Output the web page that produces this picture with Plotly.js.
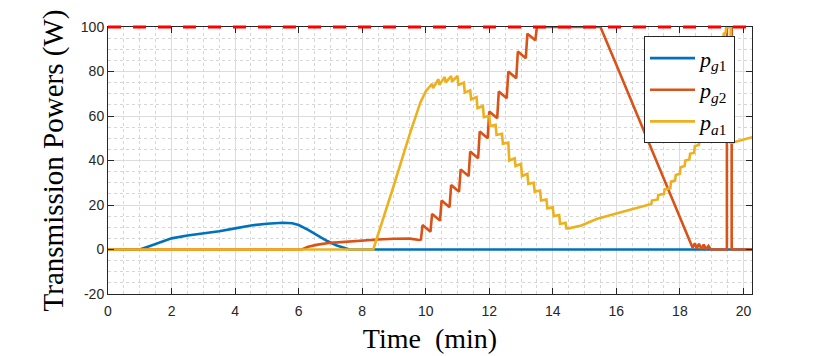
<!DOCTYPE html>
<html>
<head>
<meta charset="utf-8">
<script src="https://cdn.plot.ly/plotly-3.0.1.min.js"></script>
<style>
  html, body { margin: 0; padding: 0; background: #fff; }
  #chart { width: 830px; height: 356px; }
</style>
</head>
<body>
<div id="chart"></div>
<script>
// ---- data (Time in min, Power in W) ----
const tG1 = [0, 1.0, 1.3, 1.6, 2.0, 2.5, 3.0, 3.5, 4.0, 4.5, 5.0, 5.5, 5.8, 6.0, 6.3, 6.6, 6.9, 7.2, 7.5, 7.6, 20.27];
const pG1 = [0, 0, 1.5, 3.0, 5.0, 6.3, 7.2, 8.2, 9.5, 10.8, 11.6, 12.0, 11.8, 11.0, 8.8, 6.3, 3.8, 1.8, 0.2, 0, 0];

const tG2 = [0, 6.1, 6.3, 6.6, 7.0, 7.5, 8.0, 8.5, 9.0, 9.5, 9.8,
  9.85, 9.90, 10.15, 10.20, 10.45, 10.50, 10.75, 10.80, 11.05, 11.10, 11.35, 11.40,
  11.65, 11.70, 11.95, 12.00, 12.25, 12.30, 12.55, 12.60, 12.85, 12.90, 13.15, 13.20,
  13.45, 13.50, 15.5, 16.0, 16.5, 17.0, 17.5, 18.0, 18.4, 18.47, 18.53, 18.6, 18.68,
  18.75, 18.82, 18.9, 18.97, 19.05, 19.48, 19.48, 19.63, 19.63, 20.27];
const pG2 = [0, 0, 1.2, 2.2, 3.0, 3.6, 4.1, 4.5, 4.8, 4.9, 4.3,
  4.5, 11, 8, 16, 13, 22, 19, 29, 26, 36, 33, 44,
  41, 53, 50, 62, 59, 71, 68, 80, 77, 89, 86, 97,
  94, 100, 100, 83, 66, 49, 32, 15, 0.8, 2.8, 0.4, 2.6, 0.3,
  2.2, 0.2, 1.6, 0.1, 0, 0, 100, 100, 0, 0];

const tA1 = [0, 8.35, 9.0, 9.5, 9.83, 10.0, 10.2, 10.23, 10.4, 10.43, 10.6, 10.63, 10.8, 10.83,
  11.0, 11.03, 11.2, 11.23, 11.4, 11.43, 11.6, 11.63, 11.8, 11.83, 12.0, 12.03, 12.2, 12.23,
  12.4, 12.43, 12.6, 12.63, 12.8, 12.83, 13.0, 13.03, 13.2, 13.23, 13.4, 13.43, 13.6, 13.63,
  13.8, 13.83, 14.0, 14.03, 14.2, 14.23, 14.4, 14.43, 14.5, 14.9, 15.4, 15.9, 16.4, 16.9,
  17.1, 17.12, 17.3, 17.32, 17.5, 17.52, 17.7, 17.72, 17.85, 17.87, 18.0, 18.02, 18.15, 18.17,
  18.3, 18.32, 18.45, 18.47, 18.6, 18.62, 18.8, 19.0, 19.15, 19.28, 19.3, 19.36, 19.38, 19.44,
  19.46, 19.6, 19.6, 19.65, 20.0, 20.27];
const pA1 = [0, 0, 29, 52, 66, 71, 74.5, 72.5, 76.5, 74, 77.5, 75, 78, 75.5,
  78, 74, 75, 70.5, 71.5, 67.5, 68.5, 63.5, 64.5, 59.5, 60, 55.5, 56, 51.5,
  52, 47.5, 48, 40, 41, 37.5, 38.5, 33, 34, 29.5, 30, 26, 26.5, 22,
  22.5, 18.5, 19, 15, 15.5, 11.5, 12, 9.5, 9.5, 10.8, 13.8, 15.8, 17.5, 19.8,
  20.5, 22, 22.5, 24.5, 25, 27, 27.5, 30.5, 31, 33.5, 34, 37, 37.5, 40,
  40.5, 43, 43.5, 46.5, 47, 50, 56, 66, 76, 88, 92, 92.5, 97, 97.5,
  100, 100, 48, 48, 49.5, 50.5];

const tLimit = [0, 20.27];
const pLimit = [100, 100];

const xRange = [0, 20.27];
const yRange = [-20, 100];
const xTicks = [0, 2, 4, 6, 8, 10, 12, 14, 16, 18, 20];
const yTicks = [-20, 0, 20, 40, 60, 80, 100];

const seriesNames = ['<i>p</i><sub><i>g</i>1</sub>', '<i>p</i><sub><i>g</i>2</sub>', '<i>p</i><sub><i>a</i>1</sub>'];
const colors = ['#0072BD', '#D95319', '#EDB120'];

const LW = 2.6;
const traces = [
  {x: tG1, y: pG1, name: seriesNames[0], mode: 'lines', line: {color: colors[0], width: LW}},
  {x: tG2, y: pG2, name: seriesNames[1], mode: 'lines', line: {color: colors[1], width: LW}},
  {x: tA1, y: pA1, name: seriesNames[2], mode: 'lines', line: {color: colors[2], width: LW}}
];

// limit line as a shape (so it is not clipped at the top border)
const toPaperY = v => (v - yRange[0]) / (yRange[1] - yRange[0]);
const shapes = [{
  type: 'line', layer: 'above', xref: 'x', yref: 'paper',
  x0: tLimit[0], x1: tLimit[1], y0: toPaperY(pLimit[0]), y1: toPaperY(pLimit[1]),
  line: {color: '#FF0000', width: 3, dash: '13px,12px'}
}];

const axisCommon = {
  showline: true, linecolor: '#262626', linewidth: 1, mirror: 'ticks',
  ticks: 'inside', ticklen: 6, tickwidth: 1, tickcolor: '#262626',
  showgrid: true, gridcolor: '#dcdcdc', gridwidth: 1,
  zeroline: false,
  tickfont: {family: 'Liberation Sans, Arial, sans-serif', size: 14, color: '#262626'},
};

const serif = 'Liberation Serif, Times New Roman, serif';
const layout = {
  width: 830, height: 356,
  margin: {l: 108, r: 78, t: 27, b: 62},
  paper_bgcolor: '#ffffff', plot_bgcolor: '#ffffff',
  showlegend: true,
  shapes: shapes,
  xaxis: Object.assign({}, axisCommon, {
    range: xRange, tickvals: xTicks, ticktext: xTicks.map(String),
    ticklabelstandoff: 4,
    minor: {dtick: 0.5, tick0: 0, showgrid: true, gridcolor: '#d6d6d6', griddash: 'dot', gridwidth: 1, ticks: ''},
    title: {text: 'Time\u00a0\u00a0(min)', standoff: 10,
            font: {family: serif, size: 28, color: '#000'}}
  }),
  yaxis: Object.assign({}, axisCommon, {
    range: yRange, tickvals: yTicks, ticktext: yTicks.map(String),
    minor: {dtick: 5, tick0: 0, showgrid: true, gridcolor: '#d6d6d6', griddash: 'dot', gridwidth: 1, ticks: ''},
    title: {text: 'Transmission Powers (W)', standoff: 8,
            font: {family: serif, size: 29, color: '#000'}}
  }),
  legend: {
    x: 0.9736, xanchor: 'right', y: 0.965, yanchor: 'top',
    bgcolor: '#ffffff', bordercolor: '#262626', borderwidth: 1,
    font: {family: serif, size: 22, color: '#000'},
    itemwidth: 45, tracegroupgap: 0
  }
};

Plotly.newPlot('chart', traces, layout, {staticPlot: true, displayModeBar: false});
</script>
</body>
</html>
